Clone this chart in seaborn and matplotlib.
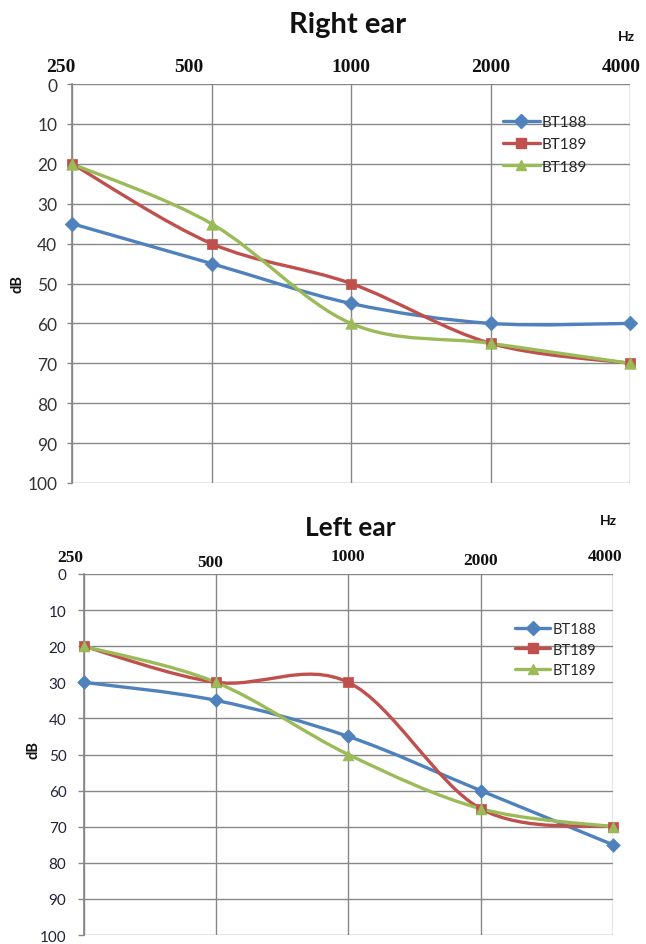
import numpy as np
import pandas as pd
import seaborn as sns
import matplotlib
matplotlib.use("Agg")
import matplotlib.pyplot as plt
from matplotlib.path import Path
from matplotlib.patches import PathPatch
from matplotlib.lines import Line2D

# ---------------- data ----------------
freqs = ["250", "500", "1000", "2000", "4000"]
series_names = ["BT188", "BT189", "BT189"]

right_bt188 = [35, 45, 55, 60, 60]
right_bt189a = [20, 40, 50, 65, 70]
right_bt189b = [20, 35, 60, 65, 70]

left_bt188 = [30, 35, 45, 60, 75]
left_bt189a = [20, 30, 30, 65, 70]
left_bt189b = [20, 30, 50, 65, 70]

y_ticks = [0, 10, 20, 30, 40, 50, 60, 70, 80, 90, 100]

colors = ["#4F81BD", "#C0504D", "#9BBB59"]
markers = ["D", "s", "^"]

sns.set_theme(style="white")
plt.rcParams["font.family"] = ["Lato", "DejaVu Sans"]

W, H = 646, 945
fig = plt.figure(figsize=(W / 100, H / 100), dpi=100)


def ax_rect(l, t, r, b):
    return [l / W, 1 - b / H, (r - l) / W, (b - t) / H]


def smooth_path(xs, ys):
    pts = np.column_stack([xs, ys]).astype(float)
    n = len(pts)
    verts = [pts[0]]
    codes = [Path.MOVETO]
    for i in range(n - 1):
        p0 = pts[i - 1] if i > 0 else pts[i]
        p1 = pts[i]
        p2 = pts[i + 1]
        p3 = pts[i + 2] if i + 2 < n else pts[i + 1]
        c1 = p1 + (p2 - p0) / 6.0
        c2 = p2 - (p3 - p1) / 6.0
        verts += [c1, c2, p2]
        codes += [Path.CURVE4] * 3
    return Path(verts, codes)


def panel(rect, data, title, title_xy, title_size, hz_xy, db_xy, label_off,
          label_dy, leg_xy, tick_fs, top_fs, msize, leg_fs, tick_len, tick_pad,
          leg_space, tick_color):
    ax = fig.add_axes(ax_rect(*rect))
    x = np.arange(len(freqs))
    for vals, c, m, name in zip(data, colors, markers, series_names):
        df = pd.DataFrame({"x": x, "dB": vals})
        patch = PathPatch(smooth_path(x, vals), facecolor="none", edgecolor=c,
                          lw=2.4, zorder=3, clip_on=False, capstyle="round")
        ax.add_patch(patch)
        sz = msize * (1.25 if m == "^" else (0.9 if m == "s" else 1.0))
        sns.scatterplot(data=df, x="x", y="dB", marker=m, color=c, s=sz,
                        edgecolor=c, linewidth=0.5, zorder=4, clip_on=False,
                        ax=ax, legend=False)
    ax.set_xlim(0, len(freqs) - 1)
    ax.set_ylim(100, 0)
    ax.set_xticks(x)
    ax.set_xticklabels([])
    ax.set_yticks(y_ticks)
    ax.set_yticklabels([str(v) for v in y_ticks], fontsize=tick_fs,
                       color=tick_color)
    ax.tick_params(axis="x", length=0)
    ax.tick_params(axis="y", length=tick_len, width=1, color="#878787",
                   pad=tick_pad, left=True)
    ax.grid(True, color="#878787", lw=1)
    for s in ax.spines.values():
        s.set_visible(False)
    ax.spines["left"].set_visible(True)
    ax.spines["left"].set_color("#878787")
    ax.set_xlabel("")
    ax.set_ylabel("")
    # top frequency labels
    for i, (lab, dx, dy) in enumerate(zip(freqs, label_off, label_dy)):
        ax.text(i + dx, 1 + dy, lab, transform=ax.get_xaxis_transform(),
                ha="center", va="center", fontsize=top_fs,
                fontweight="bold", family="Liberation Serif", color="#111111")
    fig.text(title_xy[0] / W, 1 - title_xy[1] / H, title, ha="center",
             va="center", fontsize=title_size, fontweight="bold",
             color="#111111")
    fig.text(hz_xy[0] / W, 1 - hz_xy[1] / H, "Hz", ha="center", va="center",
             fontsize=10, fontweight="bold", color="#111111")
    fig.text(db_xy[0] / W, 1 - db_xy[1] / H, "dB", ha="center", va="center",
             fontsize=10.5, fontweight="bold", rotation=90, color="#111111")
    handles = [Line2D([0], [0], color=c, lw=2.4, marker=m,
                      markersize=(7.5 if m == "s" else 7), markeredgecolor=c)
               for c, m in zip(colors, markers)]
    ax.legend(handles, series_names, loc="upper left",
              bbox_to_anchor=(leg_xy[0] / W, 1 - leg_xy[1] / H),
              bbox_transform=fig.transFigure, frameon=False, fontsize=leg_fs,
              handlelength=2.4, handletextpad=0.15, labelspacing=leg_space,
              borderpad=0, borderaxespad=0)
    return ax


panel((72, 85, 630, 484),
      [right_bt188, right_bt189a, right_bt189b],
      "Right ear", (348, 25), 21, (626, 37), (18, 284),
      [-0.08, -0.165, 0, 0, -0.06], [0.045, 0.045, 0.045, 0.045, 0.045],
      (503, 116), 12.5, 14, 55, 11, 3.6, 7, 0.55, "#333333")

panel((83.5, 575, 613, 936),
      [left_bt188, left_bt189a, left_bt189b],
      "Left ear", (350, 528), 19, (608, 521), (34, 750),
      [-0.10, -0.04, 0, 0, -0.06], [0.048, 0.033, 0.049, 0.038, 0.049],
      (515, 623), 11, 12.5, 48, 10.5, 4.3, 8, 0.45, "#22223a")

fig.savefig("out.png", dpi=100, facecolor="white")
